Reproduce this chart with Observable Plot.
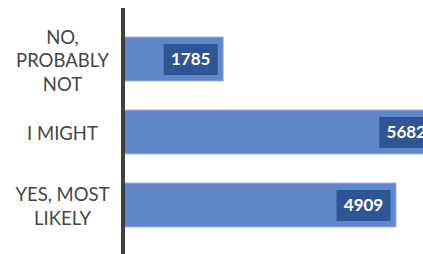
<!DOCTYPE html>
<html>
<head>
<meta charset="utf-8">
<script src="https://cdn.jsdelivr.net/npm/d3@7"></script>
<script src="https://cdn.jsdelivr.net/npm/@observablehq/plot@0.6"></script>
<style>
  html, body { margin: 0; padding: 0; background: #fff; }
  #chart svg { display: block; }
</style>
</head>
<body>
<div id="chart"></div>
<script>
const categories = ["NO, PROBABLY NOT", "I MIGHT", "YES, MOST LIKELY"];
const tickLabels = ["NO,\nPROBABLY\nNOT", "I MIGHT", "YES, MOST\nLIKELY"];
const values = [1785, 5682, 4909];

const data = categories.map((c, i) => ({cat: c, label: tickLabels[i], value: values[i]}));

const boxSymbol = {
  draw(context, size) {
    const w = 54, h = 31;
    context.moveTo(-w / 2, -h / 2);
    context.lineTo(w / 2, -h / 2);
    context.lineTo(w / 2, h / 2);
    context.lineTo(-w / 2, h / 2);
    context.closePath();
  }
};

const chart = Plot.plot({
  width: 423,
  height: 254,
  marginLeft: 0,
  marginRight: 0,
  marginTop: 8,
  marginBottom: 0,
  style: {fontFamily: "Lato, sans-serif", background: "#fff"},
  x: {domain: [0, 4909], range: [124.5, 396], axis: null},
  y: {domain: categories, range: [7, 257], padding: 0.4, axis: null},
  marks: [
    Plot.barX(data, {x: "value", y: "cat", fill: "#5F87CA", stroke: "#9DB5E0", strokeWidth: 1}),
    Plot.dot(data, {x: "value", y: "cat", dx: -33, symbol: boxSymbol, fill: "#2F5597", stroke: "none"}),
    Plot.text(data, {x: "value", y: "cat", dx: -33, text: d => String(d.value), fill: "#fff", fontWeight: "bold", fontSize: 17}),
    Plot.ruleX([0], {stroke: "#404040", strokeWidth: 4, dx: -2}),
    Plot.text(data, {frameAnchor: "left", y: "cat", dx: 62, text: "label", textAnchor: "middle", fontSize: 18.5, lineHeight: 1.27, fill: "#454545"})
  ]
});
document.getElementById("chart").append(chart);
</script>
</body>
</html>
